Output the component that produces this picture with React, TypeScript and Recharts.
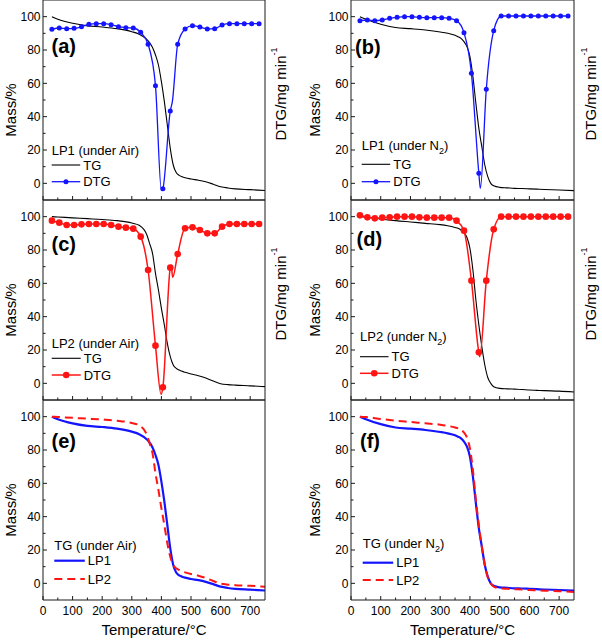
import React from "react";
import { LineChart, Line, XAxis, YAxis } from "recharts";

const FONT = '"Liberation Sans", Arial, Helvetica, sans-serif';
const AXIS = "#1a1a1a";
const BLUE = "#1414ff";
const RED = "#ff1414";

const xTicks = [0, 50, 100, 150, 200, 250, 300, 350, 400, 450, 500, 550, 600, 650, 700];
const yTicks = [0, 10, 20, 30, 40, 50, 60, 70, 80, 90, 100];

// TG curves (mass %, vs temperature °C)
const tgTemps = [30, 50, 100, 150, 200, 250, 300, 325, 350, 360, 370, 380, 390, 400, 410, 420, 430, 440, 450, 460, 470, 480, 500, 525, 550, 575, 600, 625, 650, 700, 750];
const tgAirLP1 = [100, 98.5, 96, 94.5, 93.8, 92.8, 91, 89.5, 86.5, 84.5, 81.5, 77, 71, 61, 49, 35, 21, 11, 6.5, 4.8, 4, 3.4, 2.6, 1.9, 0.9, -0.5, -2, -2.8, -3.3, -3.8, -4.3];
const tgAirLP2 = [100, 99.8, 99.3, 98.8, 98.3, 97.6, 96.2, 94.8, 89.5, 84, 78, 66, 56, 45, 35, 24, 16, 11, 9, 8, 7.2, 6.6, 5.6, 4.6, 3.2, 1.4, -0.2, -0.8, -1.1, -1.5, -2];
const tgN2LP1 = [100, 98.5, 95.5, 93.5, 92.8, 92, 90.8, 90, 88.8, 88, 87, 85, 82, 76, 64, 48, 33, 22, 11, 4, 0, -1.5, -2.4, -2.7, -3, -3.1, -3.3, -3.5, -3.7, -4, -4.4];
const tgN2LP2 = [100, 99.8, 98.6, 97.6, 96.8, 96, 95.2, 94.5, 93.5, 93, 92, 90.5, 87.5, 81, 68, 50, 35, 22, 11, 3.5, 0, -2, -3, -3.3, -3.5, -3.7, -4, -4.2, -4.4, -4.7, -5.2];

// DTG curves, markers every 25 °C (plotted on the unlabelled right axis)
const dtgTemps = [30, 55, 80, 105, 130, 155, 180, 205, 230, 255, 280, 305, 330, 355, 380, 405, 430, 455, 480, 505, 530, 555, 580, 605, 630, 655, 680, 705, 730];
const dtgAirLP1 = [92.4, 93.2, 92.8, 93, 94, 95.4, 95.8, 95.8, 95.2, 94, 93.4, 93.2, 90.6, 83.4, 58.6, -3.2, 43.4, 83.4, 92.6, 94.6, 93.8, 92.6, 92.8, 95, 95.8, 95.8, 95.8, 95.8, 95.8];
const dtgN2LP1 = [97.6, 98, 97.6, 98, 99, 99.6, 100, 100, 99.6, 99.4, 99.4, 99.4, 99, 97.6, 90.4, 66, 6, 56.4, 91.6, 100.4, 100.4, 100.4, 100.4, 100.4, 100.4, 100.4, 100.4, 100.4, 100.4];
const dtgAirLP2 = [97.6, 96.4, 95, 95, 95.4, 95.6, 95.6, 95.6, 95, 94, 93.4, 92.8, 88, 68, 22.6, -2.4, 69.4, 77.6, 93, 93.6, 92, 90, 90, 94, 95.6, 95.6, 95.6, 95.6, 95.6];
const dtgN2LP2 = [100.8, 99.6, 99, 99.4, 99.6, 100, 100, 100, 99.6, 99.4, 99.4, 99.4, 99.4, 97.6, 91.6, 61.6, 18.6, 61.6, 92.4, 100, 100, 100, 100, 100, 100, 100, 100, 100, 100];

// extra curve points between markers (peak minima, shoulders)
const dtgAirLP1PeakT = [400, 437];
const dtgAirLP1PeakV = [-4.4, 49];
const dtgN2LP1PeakT = [435];
const dtgN2LP1PeakV = [-3];
const dtgAirLP2PeakT = [399, 433, 438];
const dtgAirLP2PeakV = [-6.6, 71, 63.6];
const dtgN2LP2PeakT = [433];
const dtgN2LP2PeakV = [16];

type Pt = { t: number; v: number };
const zip = (ts: number[], vs: number[]): Pt[] => ts.map((t, i) => ({ t, v: vs[i] }));
const merge = (a: Pt[], b: Pt[]) => [...a, ...b].sort((p, q) => p.t - q.t);

interface SeriesDef {
  name: string;
  data: Pt[];
  markers?: Pt[];
  color: string;
  width: number;
  dash?: string;
  dotR?: number;
  axis: "mass" | "dtg";
}

interface PanelDef {
  tag: string;
  left: number;
  top: number;
  width: number;
  leftW: number;
  rightW: number;
  massX: number;
  dtgX: number;
  bottom: boolean;
  dtgLabel: boolean;
  title: string[];
  tagX: number;
  tagY: number;
  legX: number;
  legLen: number;
  rows: number[];
  series: SeriesDef[];
}

const tg = (vals: number[]): SeriesDef => ({ name: "TG", data: zip(tgTemps, vals), color: "#000", width: 1.1, axis: "mass" });
const dtg = (vals: number[], pt: number[], pv: number[], color: string, r: number, w: number): SeriesDef => ({
  name: "DTG",
  data: merge(zip(dtgTemps, vals), zip(pt, pv)),
  markers: zip(dtgTemps, vals),
  color,
  width: w,
  dotR: r,
  axis: "dtg",
});

const panels: PanelDef[] = [
  {
    tag: "a", left: 0, top: 0, width: 300, leftW: 43, rightW: 35, massX: 10, dtgX: 15, bottom: false, dtgLabel: true,
    title: ["LP1 (under Air)"], tagX: 51.5, tagY: 53, legX: 51.7, legLen: 28.5, rows: [150, 165, 181.7],
    series: [tg(tgAirLP1), dtg(dtgAirLP1, dtgAirLP1PeakT, dtgAirLP1PeakV, BLUE, 2.5, 1.3)],
  },
  {
    tag: "b", left: 300, top: 0, width: 302, leftW: 51, rightW: 28, massX: 14, dtgX: 16, bottom: false, dtgLabel: true,
    title: ["LP1 (under N", "2", ")"], tagX: 355, tagY: 54, legX: 361.7, legLen: 28.5, rows: [145, 164.3, 181.7],
    series: [tg(tgN2LP1), dtg(dtgN2LP1, dtgN2LP1PeakT, dtgN2LP1PeakV, BLUE, 2.5, 1.3)],
  },
  {
    tag: "c", left: 0, top: 200, width: 300, leftW: 43, rightW: 35, massX: 10, dtgX: 15, bottom: false, dtgLabel: true,
    title: ["LP2 (under Air)"], tagX: 51.5, tagY: 51, legX: 51.7, legLen: 29, rows: [143, 158.3, 175],
    series: [tg(tgAirLP2), dtg(dtgAirLP2, dtgAirLP2PeakT, dtgAirLP2PeakV, RED, 3.3, 1.5)],
  },
  {
    tag: "d", left: 300, top: 200, width: 302, leftW: 51, rightW: 28, massX: 14, dtgX: 16, bottom: false, dtgLabel: true,
    title: ["LP2 (under N", "2", ")"], tagX: 356.5, tagY: 46, legX: 360, legLen: 28.5, rows: [136.7, 156.7, 173.3],
    series: [tg(tgN2LP2), dtg(dtgN2LP2, dtgN2LP2PeakT, dtgN2LP2PeakV, RED, 3.3, 1.5)],
  },
  {
    tag: "e", left: 0, top: 400, width: 300, leftW: 43, rightW: 35, massX: 10, dtgX: 15, bottom: true, dtgLabel: false,
    title: ["TG (under Air)"], tagX: 51.5, tagY: 47.5, legX: 54.3, legLen: 30.5, rows: [145.7, 160.7, 179],
    series: [
      { name: "LP1", data: zip(tgTemps, tgAirLP1), color: BLUE, width: 2.2, axis: "mass" },
      { name: "LP2", data: zip(tgTemps, tgAirLP2), color: RED, width: 2, dash: "8 5", axis: "mass" },
    ],
  },
  {
    tag: "f", left: 300, top: 400, width: 302, leftW: 51, rightW: 28, massX: 14, dtgX: 16, bottom: true, dtgLabel: false,
    title: ["TG (under N", "2", ")"], tagX: 360, tagY: 47.5, legX: 362.7, legLen: 30.5, rows: [143.3, 162.7, 180],
    series: [
      { name: "LP1", data: zip(tgTemps, tgN2LP1), color: BLUE, width: 2.2, axis: "mass" },
      { name: "LP2", data: zip(tgTemps, tgN2LP2), color: RED, width: 2, dash: "8 5", axis: "mass" },
    ],
  },
];

function XTick(props: any) {
  const { x, y, payload, side, labels } = props;
  const v = payload.value as number;
  const major = v % 100 === 0;
  const dir = side === "top" ? 1 : -1;
  return (
    <g>
      <line x1={x} x2={x} y1={y} y2={y + dir * (major ? 4 : 2.5)} stroke={AXIS} strokeWidth={1} />
      {labels && major && (
        <text x={x} y={y + 14.5} textAnchor="middle" fontSize={12} fontFamily={FONT} fill="#000">
          {v}
        </text>
      )}
    </g>
  );
}

function YTick(props: any) {
  const { x, y, payload } = props;
  const v = payload.value as number;
  const major = v % 20 === 0;
  return (
    <g>
      <line x1={x} x2={x + (major ? 4 : 2.5)} y1={y} y2={y} stroke={AXIS} strokeWidth={1} />
      {major && (
        <text x={x - 2.5} y={y + 4.2} textAnchor="end" fontSize={12} fontFamily={FONT} fill="#000">
          {v}
        </text>
      )}
    </g>
  );
}

function Title({ parts }: { parts: string[] }) {
  return (
    <>
      {parts.map((s, i) =>
        i % 2 === 1 ? (
          <tspan key={i} fontSize={9} dy={4}>{s}</tspan>
        ) : (
          <tspan key={i} dy={i > 0 ? -4 : 0}>{s}</tspan>
        )
      )}
    </>
  );
}

function PanelLegend({ p }: { p: PanelDef }) {
  return (
    <svg
      width={602}
      height={200}
      style={{ position: "absolute", left: 0, top: p.top, overflow: "visible", pointerEvents: "none" }}
      fontFamily={FONT}
    >
      <text x={p.tagX} y={p.tagY} fontSize={20} fontWeight="bold" fill="#000">
        ({p.tag})
      </text>
      <text x={p.legX} y={p.rows[0] + 4.6} fontSize={13} fill="#000">
        <Title parts={p.title} />
      </text>
      {p.series.map((s, i) => {
        const y = p.rows[i + 1];
        return (
          <g key={s.name}>
            <line x1={p.legX} x2={p.legX + p.legLen} y1={y} y2={y} stroke={s.color} strokeWidth={s.width} strokeDasharray={s.dash} />
            {s.dotR && <circle cx={p.legX + p.legLen / 2} cy={y} r={s.dotR} fill={s.color} />}
            <text x={p.legX + p.legLen + 3} y={y + 4.6} fontSize={13} fill="#000">
              {s.name}
            </text>
          </g>
        );
      })}
    </svg>
  );
}

function Panel({ p }: { p: PanelDef }) {
  const h = p.bottom ? 244 : 202;
  return (
    <div style={{ position: "absolute", left: p.left, top: p.top - 1 }}>
      <LineChart width={p.width} height={h} margin={{ top: 0, right: 0, bottom: 0, left: 0 }}>
        <XAxis
          xAxisId="x"
          dataKey="t"
          type="number"
          domain={[0, 750]}
          allowDataOverflow
          ticks={xTicks}
          interval={0}
          height={p.bottom ? 43 : 1}
          tickSize={0}
          tickMargin={0}
          tickLine={false}
          stroke={AXIS}
          tick={(tp: any) => <XTick {...tp} side="bottom" labels={p.bottom} />}
          label={
            p.bottom
              ? {
                  content: (lp: any) => {
                    const vb = lp.viewBox;
                    return (
                      <text x={vb.x + vb.width / 2} y={vb.y + 35} textAnchor="middle" fontSize={15} fontFamily={FONT} fill="#000">
                        Temperature/°C
                      </text>
                    );
                  },
                }
              : undefined
          }
        />
        <XAxis
          xAxisId="top"
          orientation="top"
          type="number"
          domain={[0, 750]}
          allowDataOverflow
          ticks={xTicks}
          interval={0}
          height={1}
          tickSize={0}
          tickMargin={0}
          tickLine={false}
          stroke={AXIS}
          tick={(tp: any) => <XTick {...tp} side="top" labels={false} />}
        />
        <YAxis
          yAxisId="mass"
          type="number"
          domain={[-10, 110]}
          allowDataOverflow
          ticks={yTicks}
          interval={0}
          width={p.leftW}
          tickSize={0}
          tickMargin={0}
          tickLine={false}
          stroke={AXIS}
          tick={(tp: any) => <YTick {...tp} />}
          label={{
            content: (lp: any) => {
              const vb = lp.viewBox;
              const cx = vb.x + p.massX;
              const cy = vb.y + 110;
              return (
                <text x={cx} y={cy} transform={`rotate(-90 ${cx} ${cy})`} textAnchor="middle" dominantBaseline="central" fontSize={15} fontFamily={FONT} fill="#000">
                  Mass/%
                </text>
              );
            },
          }}
        />
        <YAxis
          yAxisId="dtg"
          orientation="right"
          type="number"
          domain={[-10, 110]}
          allowDataOverflow
          width={p.rightW}
          tick={false}
          tickLine={false}
          stroke={AXIS}
          label={
            p.dtgLabel
              ? {
                  content: (lp: any) => {
                    const vb = lp.viewBox;
                    const cx = vb.x + p.dtgX;
                    const cy = vb.y + 94;
                    return (
                      <text x={cx} y={cy} transform={`rotate(-90 ${cx} ${cy})`} textAnchor="middle" dominantBaseline="central" fontSize={15} fontFamily={FONT} fill="#000">
                        DTG/mg min
                        <tspan fontSize={9} dy={-6}>-1</tspan>
                      </text>
                    );
                  },
                }
              : undefined
          }
        />
        {p.series.map((s) => (
          <Line
            key={s.name}
            xAxisId="x"
            yAxisId={s.axis}
            data={s.data}
            dataKey="v"
            type="monotone"
            stroke={s.color}
            strokeWidth={s.width}
            strokeDasharray={s.dash}
            dot={false}
            activeDot={false}
            isAnimationActive={false}
          />
        ))}
        {p.series
          .filter((s) => s.markers)
          .map((s) => (
            <Line
              key={s.name + "-markers"}
              xAxisId="x"
              yAxisId={s.axis}
              data={s.markers}
              dataKey="v"
              stroke="none"
              strokeWidth={0}
              dot={{ r: s.dotR, fill: s.color, stroke: s.color, strokeWidth: 0 }}
              activeDot={false}
              isAnimationActive={false}
            />
          ))}
      </LineChart>
    </div>
  );
}

export default function App() {
  return (
    <div
      style={{
        position: "absolute",
        left: 0,
        top: 0,
        width: 602,
        height: 643,
        background: "#fff",
        overflow: "hidden",
        fontFamily: FONT,
      }}
    >
      {panels.map((p) => (
        <Panel key={p.tag} p={p} />
      ))}
      {panels.map((p) => (
        <PanelLegend key={p.tag + "-legend"} p={p} />
      ))}
    </div>
  );
}
